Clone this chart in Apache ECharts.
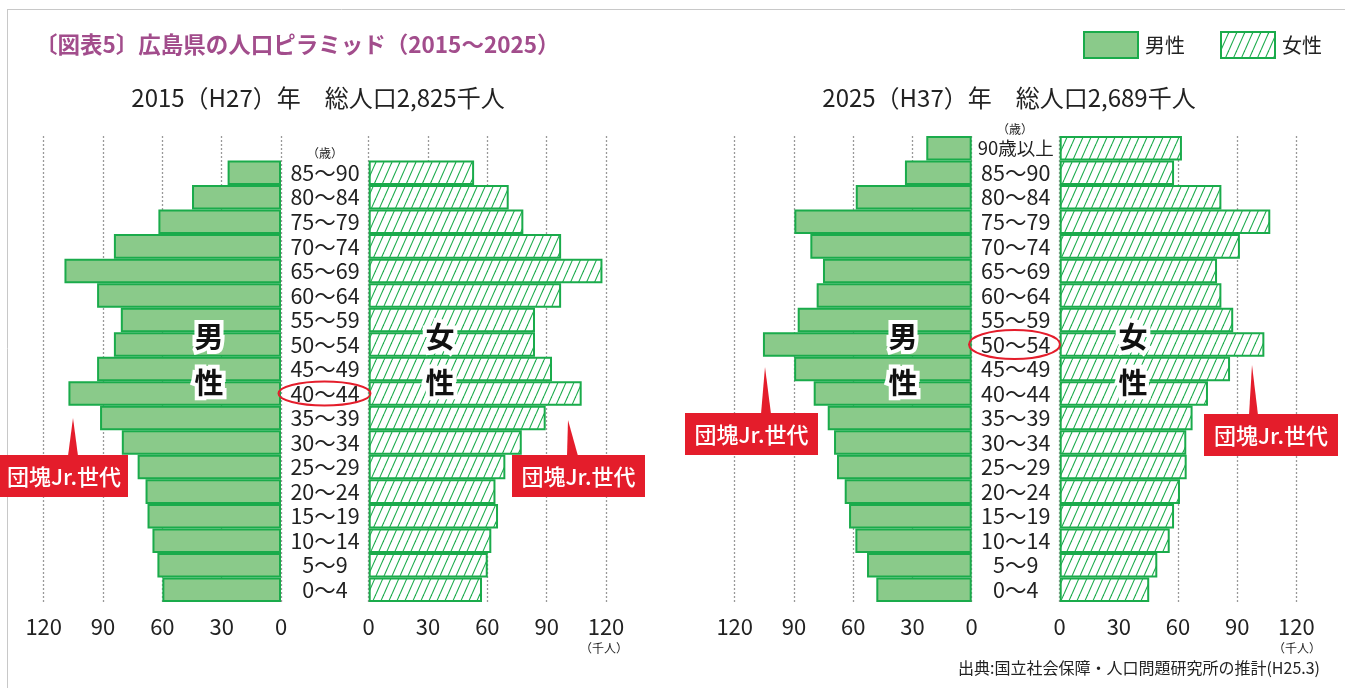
<!DOCTYPE html>
<html><head><meta charset="utf-8">
<script src="https://cdn.jsdelivr.net/npm/echarts@6/dist/echarts.min.js"></script>
<style>html,body{margin:0;padding:0;background:#fff}#c{width:1345px;height:688px}</style>
</head><body><div id="c"></div>
<script>
// ---- data (千人) ----
const ages2015 = ['0〜4','5〜9','10〜14','15〜19','20〜24','25〜29','30〜34','35〜39','40〜44','45〜49','50〜54','55〜59','60〜64','65〜69','70〜74','75〜79','80〜84','85〜90'];
const male2015 = [60, 62.5, 65, 67.5, 68.5, 72.5, 80.5, 91.5, 107.5, 93, 84.5, 81, 93, 109.5, 84.5, 62, 45, 27];
const female2015 = [57.3, 60.2, 62, 65.4, 64.1, 69.1, 77.4, 89.5, 107.7, 92.7, 84.1, 84.1, 97.3, 118.2, 97.3, 78.2, 70.8, 53.3];
const ages2025 = ['0〜4','5〜9','10〜14','15〜19','20〜24','25〜29','30〜34','35〜39','40〜44','45〜49','50〜54','55〜59','60〜64','65〜69','70〜74','75〜79','80〜84','85〜90','90歳以上'];
const male2025 = [48.3, 53, 58.9, 62.1, 64.3, 68.2, 69.7, 72.9, 80, 89.9, 105.7, 88.1, 78.5, 75.3, 81.7, 89.8, 58.7, 33.8, 23];
const female2025 = [45.4, 49.5, 55.8, 58, 61, 64.4, 64.2, 67.4, 75.2, 86.4, 103.8, 88, 82, 79.8, 91.4, 106.8, 82, 58, 62];
const xTicks = [0, 30, 60, 90, 120];

const FONT = "'Noto Sans CJK JP', 'Noto Sans', sans-serif";
const GREEN = '#1aab4b';
const MALE_FILL = '#8aca8a';
const RED = '#e41d2b';
const TXT = '#222';

// hatch pattern
const pc = document.createElement('canvas');
pc.width = 8; pc.height = 18;
const g = pc.getContext('2d');
g.fillStyle = '#fff'; g.fillRect(0, 0, 8, 18);
g.strokeStyle = GREEN; g.lineWidth = 1.1;
[-8, 0, 8].forEach((o) => { g.beginPath(); g.moveTo(o, 18); g.lineTo(o + 8, 0); g.stroke(); });
const hatch = { image: pc, repeat: 'repeat' };

const chart = echarts.init(document.getElementById('c'));
const TOP = 136, H = 466;
const grids = [
  { left: 43.7, top: TOP, width: 237.3, height: H },
  { left: 368.7, top: TOP, width: 237.3, height: H },
  { left: 734.7, top: TOP, width: 237, height: H },
  { left: 1059.7, top: TOP, width: 236.6, height: H }
];
function xa(i, inv) {
  return {
    type: 'value', gridIndex: i, min: xTicks[0], max: xTicks[xTicks.length - 1], interval: 30, inverse: inv,
    axisLine: { show: false }, axisTick: { show: false },
    axisLabel: { fontSize: 22, color: TXT, fontFamily: FONT, margin: 14 },
    splitLine: { show: true, lineStyle: { type: [2, 2], color: '#999', width: 1.3 } }
  };
}
const cats2015 = ages2015.concat(['']);
function ya(i, data, showLabel) {
  return {
    type: 'category', gridIndex: i, data: data, position: showLabel ? 'right' : 'left',
    axisLine: { show: false }, axisTick: { show: false },
    axisLabel: {
      show: showLabel, interval: 0, hideOverlap: false, align: 'center', margin: 44,
      fontSize: 21.5, color: TXT, fontFamily: FONT,
      formatter: (v) => v.indexOf('歳') >= 0 ? '{k|' + v + '}' : v,
      rich: { k: { fontSize: 18.5, color: TXT, fontFamily: FONT } }
    }
  };
}
const barBase = { type: 'bar', barCategoryGap: '0%', animation: false };
const maleStyle = { color: MALE_FILL, borderColor: GREEN, borderWidth: 2 };
const femaleStyle = { color: hatch, borderColor: GREEN, borderWidth: 2 };

function t(x, y, text, font, fill, align) {
  return { type: 'text', x: x, y: y, z: 10,
    style: { text: text, font: font, fill: fill || TXT, align: align || 'center', verticalAlign: 'middle' } };
}
function big(x, y, ch) {
  return { type: 'text', x: x, y: y, z: 20,
    style: { text: ch, font: 'bold 29px ' + FONT, fill: '#111', align: 'center', verticalAlign: 'middle',
      stroke: '#fff', lineWidth: 8, strokeFirst: true } };
}
function callout(rx, ry, rw, rh, tri) {
  return [
    { type: 'polygon', z: 15, shape: { points: tri }, style: { fill: RED } },
    { type: 'rect', z: 15, shape: { x: rx, y: ry, width: rw, height: rh }, style: { fill: RED } },
    { type: 'text', z: 16, x: rx + rw / 2, y: ry + rh / 2 + 1,
      style: { text: '団塊Jr.世代', font: '500 22px ' + FONT, fill: '#fff', align: 'center', verticalAlign: 'middle' } }
  ];
}

const graphics = [
  { type: 'line', shape: { x1: 7, y1: 9.5, x2: 1345, y2: 9.5 }, style: { stroke: '#c8c8c8', lineWidth: 1 } },
  { type: 'line', shape: { x1: 7.5, y1: 9, x2: 7.5, y2: 688 }, style: { stroke: '#c8c8c8', lineWidth: 1 } },
  t(35, 44, '〔図表5〕広島県の人口ピラミッド（2015〜2025）', 'bold 22.5px ' + FONT, '#a24d8c', 'left'),
  t(318, 98, '2015（H27）年　総人口2,825千人', '24px ' + FONT),
  t(1009, 98, '2025（H37）年　総人口2,689千人', '24px ' + FONT),
  t(325, 153, '（歳）', '12px ' + FONT),
  t(1015, 129, '（歳）', '12px ' + FONT),
  t(604, 648, '（千人）', '12px ' + FONT),
  t(1297, 648, '（千人）', '12px ' + FONT),
  t(1320, 668, '出典:国立社会保障・人口問題研究所の推計(H25.3)', '16px ' + FONT, TXT, 'right'),
  big(209, 337, '男'), big(209, 383, '性'),
  big(440, 337, '女'), big(440, 383, '性'),
  big(903, 337, '男'), big(903, 383, '性'),
  big(1133, 337, '女'), big(1133, 383, '性'),
  { type: 'ellipse', z: 18, shape: { cx: 324.5, cy: 393.5, rx: 46, ry: 12 }, style: { fill: 'none', stroke: RED, lineWidth: 2 } },
  { type: 'ellipse', z: 18, shape: { cx: 1014.5, cy: 344.5, rx: 45.5, ry: 14.5 }, style: { fill: 'none', stroke: RED, lineWidth: 2 } }
].concat(
  callout(0, 455, 128, 42, [[73, 418], [68, 456], [78, 456]]),
  callout(512, 455, 133, 42, [[568, 420], [567, 456], [578, 456]]),
  callout(685, 413, 133, 42, [[765, 367], [761, 414], [771, 414]]),
  callout(1204, 414, 134, 42, [[1252, 365], [1249, 415], [1258, 415]])
);

chart.setOption({
  animation: false,
  textStyle: { fontFamily: FONT },
  legend: {
    left: 1083, top: 31, padding: 0, itemWidth: 54, itemHeight: 26, itemGap: 35, icon: 'rect',
    textStyle: { fontSize: 20, color: TXT, fontFamily: FONT, padding: [0, 0, 0, 2] },
    data: [
      { name: '男性', itemStyle: maleStyle },
      { name: '女性', itemStyle: femaleStyle }
    ]
  },
  grid: grids,
  xAxis: [xa(0, true), xa(1, false), xa(2, true), xa(3, false)],
  yAxis: [ya(0, cats2015, true), ya(1, cats2015, false), ya(2, ages2025, true), ya(3, ages2025, false)],
  series: [
    Object.assign({}, barBase, { name: '男性', xAxisIndex: 0, yAxisIndex: 0, data: male2015, itemStyle: maleStyle }),
    Object.assign({}, barBase, { name: '女性', xAxisIndex: 1, yAxisIndex: 1, data: female2015, itemStyle: femaleStyle }),
    Object.assign({}, barBase, { name: '男性', xAxisIndex: 2, yAxisIndex: 2, data: male2025, itemStyle: maleStyle }),
    Object.assign({}, barBase, { name: '女性', xAxisIndex: 3, yAxisIndex: 3, data: female2025, itemStyle: femaleStyle })
  ],
  graphic: graphics
});
</script></body></html>
